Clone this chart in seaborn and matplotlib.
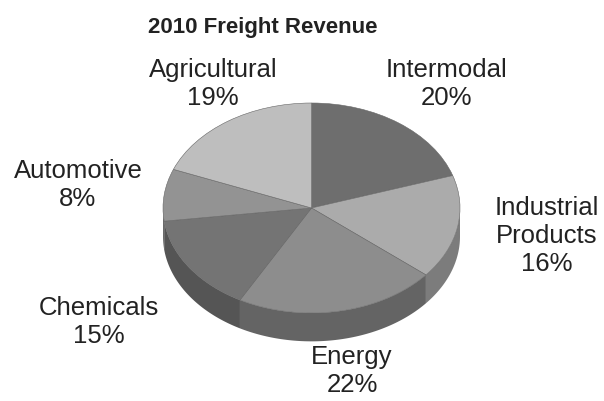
import numpy as np
import matplotlib
matplotlib.use("Agg")
import matplotlib.pyplot as plt
import seaborn as sns

# ==== data ====
categories = ["Intermodal", "Industrial\nProducts", "Energy", "Chemicals", "Automotive", "Agricultural"]
shares = [20, 16, 22, 15, 8, 19]

# ==== style ====
sns.set_theme(style="white")
plt.rcParams['font.family'] = ['Liberation Sans', 'DejaVu Sans']

top_colors = ["#6e6e6e", "#ababab", "#8d8d8d", "#747474", "#939393", "#bebebe"]
side_colors = ["#555555", "#7c7c7c", "#646464", "#555555", "#6a6a6a", "#8a8a8a"]
thickness = 0.27  # depth of the pie side, in data units (y)

# label placement (pixel centres in a 604x401 canvas)
label_px = [(447, 84), (547, 236), (352, 371), (99, 322), (78, 185), (213, 84)]

fig = plt.figure(figsize=(6.04, 4.01), dpi=100)
ax = fig.add_axes([0, 0, 1, 1])

wedges, _ = ax.pie(shares, startangle=90, counterclock=False, colors=top_colors,
                   wedgeprops=dict(linewidth=0.4, edgecolor="#666666"), radius=1.0)

# side of the 3D disc: only the front half (sin < 0) is visible
for w, col in zip(wedges, side_colors):
    t1, t2 = w.theta1, w.theta2
    for k in range(-2, 2):
        lo, hi = max(t1, -180 + 360 * k), min(t2, 0 + 360 * k)
        if hi <= lo:
            continue
        th = np.radians(np.linspace(lo, hi, 80))
        xs = np.cos(th)
        ys = np.sin(th)
        px = np.concatenate([xs, xs[::-1]])
        py = np.concatenate([ys, ys[::-1] - thickness])
        ax.fill(px, py, color=col, lw=0, zorder=0.5)

for w in wedges:
    w.set_zorder(2)

# squash the circle into an ellipse
ax.set_aspect('auto')
cx, cy, sx, sy = 311.5, 193, 148.5, 105
ax.set_xlim(-cx / sx, (604 - cx) / sx)
ax.set_ylim(-cy / sy, (401 - cy) / sy)
ax.axis('off')

for name, val, (lx, ly) in zip(categories, shares, label_px):
    fig.text(lx / 604, 1 - ly / 401, f"{name}\n{val}%", ha="center", va="center",
             fontsize=18.5, color="#222222", linespacing=1.2)

fig.text(263 / 604, 1 - 27 / 401, "2010 Freight Revenue", ha="center", va="center",
         fontsize=16, fontweight="bold", color="#222222")

fig.savefig("out.png", dpi=100, facecolor="white")
